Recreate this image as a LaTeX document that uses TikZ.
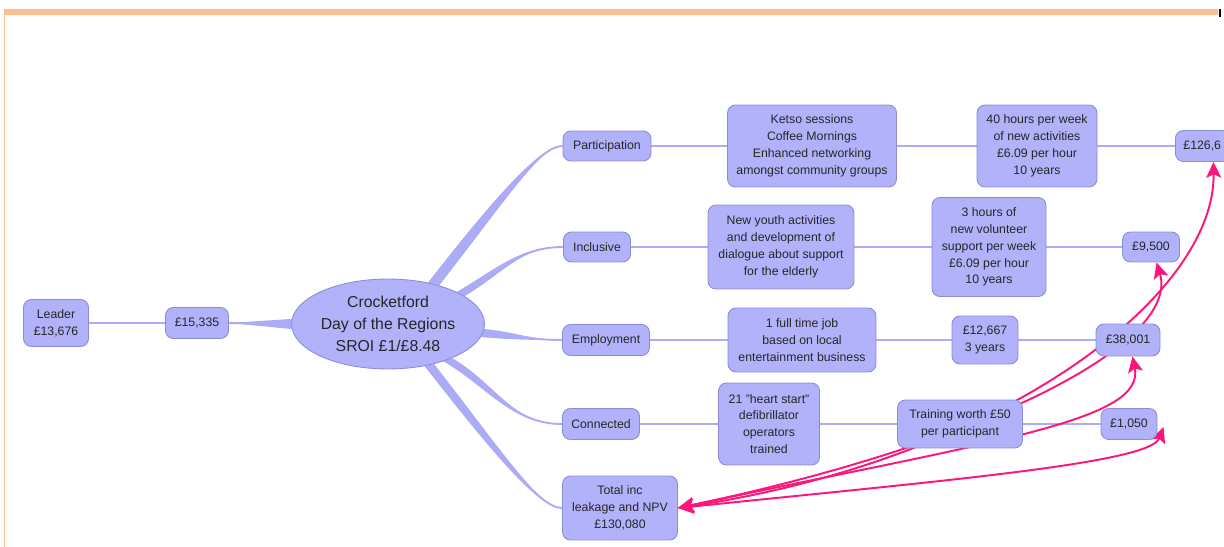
\documentclass[tikz,border=0pt]{standalone}
\usepackage{fontspec}
\setmainfont{Liberation Sans}
\usetikzlibrary{arrows.meta,backgrounds,shapes.geometric}
\definecolor{boxfill}{RGB}{178,178,250}
\definecolor{boxline}{RGB}{140,140,212}
\definecolor{linkc}{RGB}{172,172,246}
\definecolor{gainc}{RGB}{255,20,122}
\definecolor{framec}{RGB}{250,192,146}

\begin{document}
\begin{tikzpicture}[
  x=0.02cm, y=-0.02cm,
  box/.style={draw=boxline, fill=boxfill, rounded corners=4.5pt, align=center,
    inner sep=0pt, line width=0.5pt, text=black!85,
    font=\fontsize{7}{9.6}\selectfont},
  link/.style={draw=linkc, line width=1.1pt},
  branch/.style={fill=linkc},
  gain/.style={draw=gainc, line width=1.1pt,
    {Stealth[length=9pt,width=8.5pt,inset=2pt]}-{Stealth[length=9pt,width=8.5pt,inset=2pt]}}
]
\useasboundingbox (0,0) rectangle (1224,547);
\fill [framec] (4,9) rectangle (1218,15);
\draw [framec, line width=0.8pt] (4.5,15) -- (4.5,547);
\draw [line width=0.8pt] (1220,9) -- (1220,17);

\node [box, minimum width=1.3cm, minimum height=0.94cm] (leader) at (56,323) {Leader\\£13,676};
\node [box, minimum width=1.26cm, minimum height=0.62cm] (p15335) at (197,323) {£15,335};
\node [ellipse, draw=boxline, fill=boxfill, line width=0.5pt, inner sep=0pt, align=center,
  minimum width=3.86cm, minimum height=1.8cm, text=black!85,
  font=\fontsize{9}{12.5}\selectfont] (hub) at (388,324) {Crocketford\\Day of the Regions\\SROI £1/£8.48};

\node [box, minimum width=1.76cm, minimum height=0.6cm] (part) at (607,146) {Participation};
\node [box, minimum width=1.34cm, minimum height=0.6cm] (incl) at (597,247) {Inclusive};
\node [box, minimum width=1.74cm, minimum height=0.62cm] (empl) at (606,340) {Employment};
\node [box, minimum width=1.54cm, minimum height=0.62cm] (conn) at (601,424) {Connected};
\node [box, minimum width=2.3cm, minimum height=1.28cm] (total) at (620,508) {Total inc\\leakage and NPV\\£130,080};

\node [box, minimum width=3.38cm, minimum height=1.64cm] (ketso) at (812,146) {Ketso sessions\\Coffee Mornings\\Enhanced networking\\amongst community groups};
\node [box, minimum width=2.92cm, minimum height=1.68cm] (youth) at (781,247) {New youth activities\\and development of\\dialogue about support\\for the elderly};
\node [box, minimum width=2.96cm, minimum height=1.28cm] (job) at (802,340) {1 full time job\\based on local\\entertainment business};
\node [box, minimum width=2.02cm, minimum height=1.64cm] (heart) at (769,424) {21 "heart start"\\defibrillator\\operators\\trained};

\node [box, minimum width=2.4cm, minimum height=1.64cm] (hours40) at (1037,146) {40 hours per week\\of new activities\\£6.09 per hour\\10 years};
\node [box, minimum width=2.28cm, minimum height=1.98cm] (hours3) at (989,247) {3 hours of\\new volunteer\\support per week\\£6.09 per hour\\10 years};
\node [box, minimum width=1.32cm, minimum height=0.96cm] (p12667) at (985,340) {£12,667\\3 years};
\node [box, minimum width=2.5cm, minimum height=0.96cm] (training) at (960,424) {Training worth £50\\per participant};

\begin{scope}
\clip (0,0) rectangle (1224,547);
\node [box, anchor=west, text width=1.2cm, align=left, inner xsep=0.16cm, minimum height=0.62cm] (p126) at (1175,146) {£126,6};
\end{scope}
\node [box, minimum width=1.14cm, minimum height=0.6cm] (p9500) at (1151,247) {£9,500};
\node [box, minimum width=1.28cm, minimum height=0.64cm] (p38001) at (1128,340) {£38,001};
\node [box, minimum width=1.12cm, minimum height=0.62cm] (p1050) at (1129,424) {£1,050};

\begin{scope}[on background layer]
\draw [link] (leader) -- (p15335);
\fill [branch] (p15335.east) -- (hub.177) -- (hub.183) -- cycle;
\draw [link] (p15335) -- (hub);

\fill [branch] (hub.46) to [out=52, in=180, out looseness=1.5, in looseness=0.3] (part.west)
  to [out=180, in=52, out looseness=0.3, in looseness=1.5] (hub.37) -- cycle;
\draw [link] (hub.42) to [out=52, in=180, out looseness=1.5, in looseness=0.3] (part.west);
\fill [branch] (hub.25) to [out=30, in=180] (incl.west) to [out=180, in=30] (hub.20) -- cycle;
\draw [link] (hub.23) to [out=30, in=180] (incl.west);
\fill [branch] (hub.-3) to [out=-5, in=180] (empl.west) to [out=180, in=-5] (hub.-8) -- cycle;
\draw [link] (hub.-5) to [out=-5, in=180] (empl.west);
\fill [branch] (hub.-28) to [out=-30, in=180] (conn.west) to [out=180, in=-30] (hub.-34) -- cycle;
\draw [link] (hub.-31) to [out=-30, in=180] (conn.west);
\fill [branch] (hub.-41) to [out=-52, in=180, out looseness=1.5, in looseness=0.3] (total.west)
  to [out=180, in=-52, out looseness=0.3, in looseness=1.5] (hub.-49) -- cycle;
\draw [link] (hub.-45) to [out=-52, in=180, out looseness=1.5, in looseness=0.3] (total.west);

\draw [link] (part) -- (ketso) -- (hours40) -- (p126);
\draw [link] (incl) -- (youth) -- (hours3) -- (p9500);
\draw [link] (empl) -- (job) -- (p12667) -- (p38001);
\draw [link] (conn) -- (heart) -- (training) -- (p1050);

\draw [gain] (total.east) .. controls +(322,-48) and +(2,135) .. (p126.south);
\draw [gain] (total.east) .. controls +(322,-68) and +(23,78) .. (p9500.-70);
\draw [gain] (total.east) .. controls +(322,-68) and +(13,64) .. (p38001.-75);
\draw [gain] (total.east) .. controls +(272,-28) and +(-13,36) .. ([xshift=0.12cm,yshift=-0.06cm]p1050.east);
\end{scope}
\end{tikzpicture}
\end{document}
